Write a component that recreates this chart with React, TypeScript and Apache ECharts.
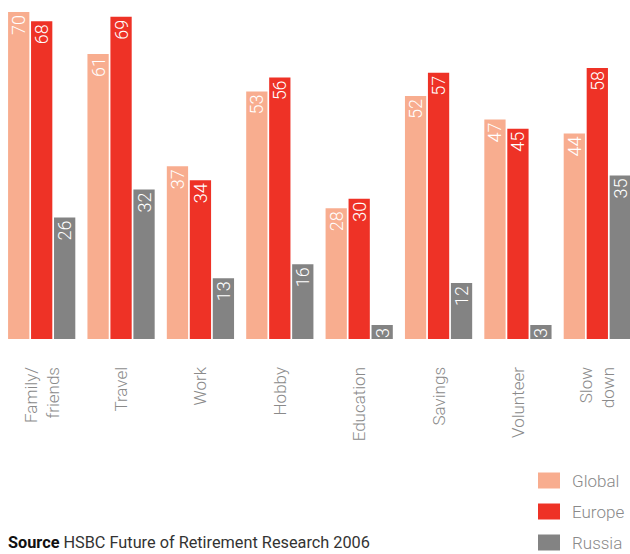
import React, { useEffect, useRef } from "react";
import * as echarts from "echarts";

const categories = ["Family/\nfriends", "Travel", "Work", "Hobby", "Education", "Savings", "Volunteer", "Slow\ndown"];
const globalValues = [70, 61, 37, 53, 28, 52, 47, 44];
const europeValues = [68, 69, 34, 56, 30, 57, 45, 58];
const russiaValues = [26, 32, 13, 16, 3, 12, 3, 35];
const seriesNames = ["Global", "Europe", "Russia"];
const colors = ["#F8AD8F", "#EE3226", "#838383"];

const FONT = "Roboto, 'Liberation Sans', sans-serif";

export default function App() {
  const ref = useRef<HTMLDivElement>(null);
  useEffect(() => {
    document.body.style.margin = "0";
    const chart = echarts.init(ref.current!, undefined, { renderer: "svg" });
    const label = {
      show: true,
      position: "insideTop",
      rotate: 90,
      align: "right",
      verticalAlign: "middle",
      distance: 3,
      color: "#ffffff",
      fontSize: 18,
      fontFamily: FONT,
      fontWeight: 300,
    };
    const data = [globalValues, europeValues, russiaValues];
    chart.setOption({
      animation: false,
      grid: { left: 2, width: 635, top: 12, bottom: 215, containLabel: false, outerBoundsMode: "none" },
      legend: {
        orient: "vertical",
        left: 538,
        top: 470,
        padding: 0,
        itemWidth: 22,
        itemHeight: 16,
        itemGap: 10,
        icon: "rect",
        selectedMode: false,
        data: seriesNames,
        textStyle: { color: "#8a8a8a", fontSize: 17, lineHeight: 21, fontFamily: FONT, fontWeight: 300, padding: [0, 0, 0, 7] },
      },
      xAxis: {
        type: "category",
        data: categories,
        axisLine: { show: false },
        axisTick: { show: false },
        axisLabel: {
          rotate: 90,
          margin: 28,
          color: "#8a8a8a",
          fontSize: 17,
          lineHeight: 22,
          fontFamily: FONT,
          fontWeight: 300,
          interval: 0,
        },
      },
      yAxis: {
        type: "value",
        min: 0,
        max: 70,
        show: false,
        splitLine: { show: false },
      },
      series: seriesNames.map((name, i) => ({
        name,
        type: "bar",
        data: data[i],
        barGap: "8%",
        barCategoryGap: "15.3%",
        itemStyle: { color: colors[i] },
        label,
      })),
      graphic: [
        {
          type: "text",
          left: 8,
          top: 534,
          style: {
            text: "{b|Source} HSBC Future of Retirement Research 2006",
            fontSize: 16.3,
            fontFamily: FONT,
            fill: "#333333",
            rich: {
              b: { fontWeight: "bold", fontSize: 16.3, fontFamily: FONT, fill: "#111111" },
            },
          },
        },
      ],
    });
    return () => chart.dispose();
  }, []);
  return <div ref={ref} style={{ width: 630, height: 554 }} />;
}
